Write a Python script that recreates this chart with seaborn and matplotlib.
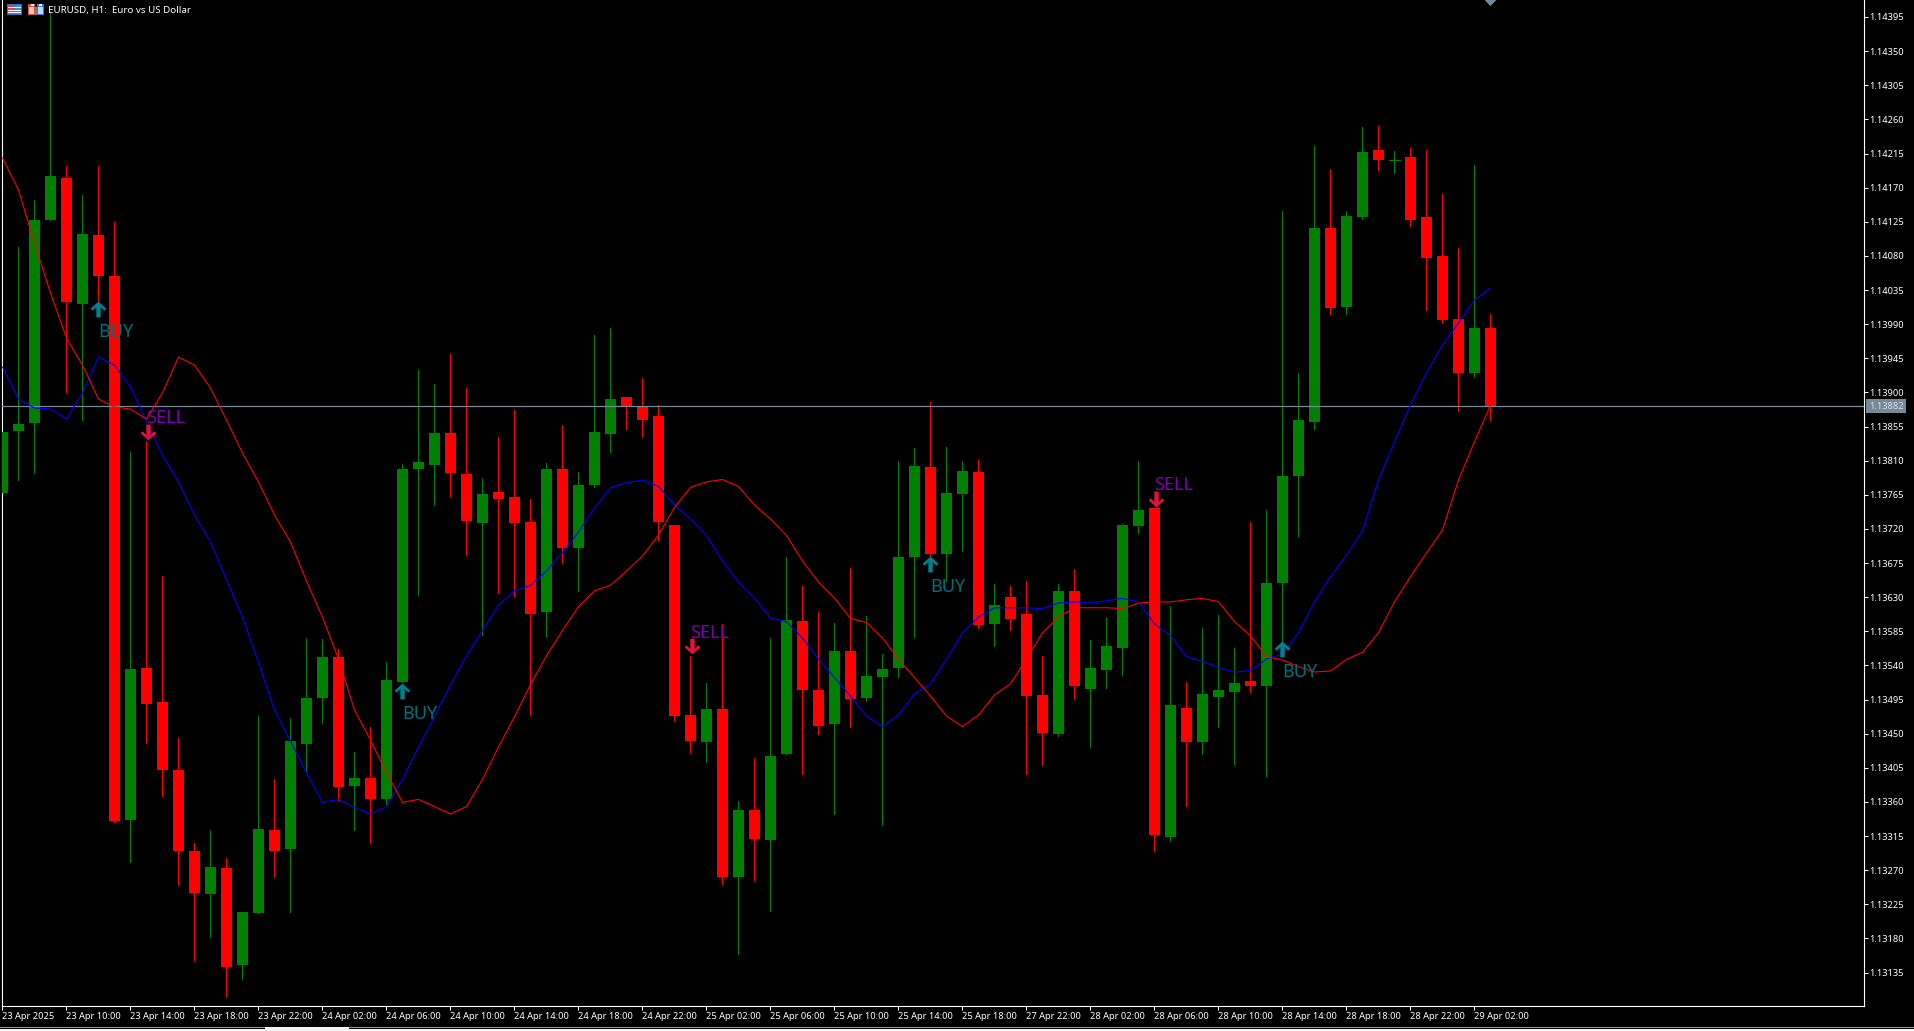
import numpy as np
import pandas as pd
import matplotlib
matplotlib.use("Agg")
import matplotlib.pyplot as plt
from matplotlib.path import Path
from matplotlib.patches import Rectangle
import seaborn as sns

# All price arrays are in points above 1.13000 (1 point = 0.00001)
BASE = 1.13
POINT = 1e-5

open_pts = [768,849,860,1127,1183,1017,1108,1054,336,537,
            492,402,296,239,273,145,214,323,298,436,
            497,551,381,392,364,518,799,804,847,792,
            728,769,762,729,610,799,695,778,845,894,
            882,869,725,475,439,482,261,349,310,423,
            598,507,463,559,497,525,537,683,802,687,
            766,795,595,630,608,501,450,638,509,534,
            563,724,748,314,484,439,498,505,520,513,
            649,790,861,1117,1013,1131,1220,1207,1210,1131,
            1080,997,926,985]
close_pts = [848,858,1127,1185,1019,1109,1054,335,535,489,
             402,296,240,274,142,215,324,296,440,497,
             551,380,392,364,521,799,808,847,794,730,
             766,759,728,608,799,695,778,848,891,882,
             864,729,474,440,482,261,349,311,421,600,
             507,460,559,496,526,535,683,803,687,767,
             797,594,620,601,500,451,638,513,537,565,
             725,745,316,488,439,503,507,517,513,649,
             790,864,1117,1011,1133,1217,1206,1207,1127,1077,
             996,926,985,882]
high_pts = [848,1092,1154,1400,1199,1160,1199,1125,821,836,
            658,444,306,323,286,215,473,390,471,576,
            575,562,426,459,545,806,930,911,951,906,
            787,841,877,759,807,857,795,976,985,894,
            919,884,725,552,517,595,361,418,576,683,
            645,610,596,668,605,555,810,827,887,828,
            809,811,648,645,652,552,648,667,573,604,
            727,810,748,619,518,589,606,563,729,745,
            1139,926,1225,1195,1139,1250,1251,1218,1222,1220,
            1162,1090,1200,1003]
low_pts = [768,785,794,1127,900,863,1021,334,281,438,
           368,250,152,182,103,127,214,261,215,401,
           464,363,323,306,357,518,633,752,764,686,
           580,635,632,475,579,675,638,775,821,852,
           841,705,467,426,413,252,159,257,216,423,
           397,450,344,459,493,330,525,578,684,651,
           691,589,566,587,397,409,447,496,432,510,
           528,715,295,309,355,423,459,410,505,394,
           572,711,852,1003,1003,1129,1193,1189,1119,1009,
           992,876,920,864]
fast_ma_pts = [933.5,891.3,879.4,878.1,864.9,899.2,946.7,936.1,907.1,861,
               817.5,781.9,738.4,702.8,652.7,603.9,543.9,481.3,440.4,398.7,
               359.4,363.4,352.7,344.2,354,389.8,432.5,472.4,514.8,552.7,
               586.2,619.7,638.4,645.7,664.5,688.9,716,747.6,774.4,781,
               784.5,776,751.6,733.1,711.5,677.7,650,628.9,602.5,597.7,
               576.2,548.5,524,499.7,473.4,459.4,474.7,502.4,515.9,548.5,
               582.8,603.9,616.1,616.1,616,615,622.3,623.7,622.3,625.3,
               628.4,624.2,594.7,579.2,551.7,545.5,537.4,531.4,533.2,548.5,
               555.1,583.2,624,657,685.6,717.6,784.5,835,883.4,925.6,
               962.5,991.5,1021.9,1037.7]
slow_ma_pts = [1209.1,1166.9,1097,1031.1,971.7,936.1,891.3,880.8,878.1,864.9,
               899.2,946.7,936.1,905.8,863.6,820.1,781.9,738.4,702.8,651.4,
               603.9,548.5,481.3,441.7,398.7,359.4,363.4,354,344.2,354,
               389.8,432.5,472.4,514.8,552.7,586.2,617.5,638.4,645.7,664.5,
               684.3,712,748.3,774.8,782.1,785.2,776,751.6,733.1,711.5,
               677.7,650,628.9,602,596.5,576.2,548.5,524,499.7,473.4,
               459.4,474.7,501,515.9,548.5,582.8,603.9,616.1,616.1,616.1,
               615,622.3,623.7,623.7,626.6,628.4,624.2,597.7,579.2,551.7,
               547.2,538.4,531.4,532.7,548.1,557.4,583.2,624,657,688.3,
               718.6,784.5,835,883.4]

time_labels = ["23 Apr 2025","23 Apr 10:00","23 Apr 14:00","23 Apr 18:00","23 Apr 22:00",
               "24 Apr 02:00","24 Apr 06:00","24 Apr 10:00","24 Apr 14:00","24 Apr 18:00",
               "24 Apr 22:00","25 Apr 02:00","25 Apr 06:00","25 Apr 10:00","25 Apr 14:00",
               "25 Apr 18:00","27 Apr 22:00","28 Apr 02:00","28 Apr 06:00","28 Apr 10:00",
               "28 Apr 14:00","28 Apr 18:00","28 Apr 22:00","29 Apr 02:00"]
price_ticks = [1.14395,1.14350,1.14305,1.14260,1.14215,1.14170,1.14125,1.14080,1.14035,1.13990,
               1.13945,1.13900,1.13855,1.13810,1.13765,1.13720,1.13675,1.13630,1.13585,1.13540,
               1.13495,1.13450,1.13405,1.13360,1.13315,1.13270,1.13225,1.13180,1.13135]
last_price = 1.13882

buy_bars = [6, 25, 58, 80]
buy_arrow_pts = [1010, 506, 674, 562]
buy_label_pts = [980, 476, 643, 531]
sell_bars = [9, 43, 72]
sell_arrow_pts = [848, 566, 759]
sell_label_pts = [866, 583, 778]

W, H = 1915, 1031
FONT = "Noto Sans"
sns.set_theme(style="dark", rc={"axes.facecolor": "black", "figure.facecolor": "black",
                                "axes.edgecolor": "white", "text.color": "white",
                                "xtick.color": "white", "ytick.color": "white"})
plt.rcParams["font.family"] = [FONT, "DejaVu Sans"]

fig = plt.figure(figsize=(W / 100, H / 100), dpi=100)
ax = fig.add_axes([2.5 / W, (H - 1006) / H, (1864 - 2.5) / W, 1006 / H])
ax.set_facecolor("black")

df = pd.DataFrame({"bar": np.arange(len(open_pts)),
                   "open": BASE + np.array(open_pts) * POINT,
                   "close": BASE + np.array(close_pts) * POINT,
                   "high": BASE + np.array(high_pts) * POINT,
                   "low": BASE + np.array(low_pts) * POINT,
                   "fast": BASE + np.array(fast_ma_pts) * POINT,
                   "slow": BASE + np.array(slow_ma_pts) * POINT})
df["up"] = df["close"] >= df["open"]
df["color"] = np.where(df["up"], "#008000", "#FF0000")

ax.vlines(df["bar"], df["low"], df["high"], colors=df["color"], linewidth=0.72,
          antialiased=False, zorder=2)
heights = (df["close"] - df["open"]).abs()
ax.bar(df["bar"], heights, bottom=df[["open", "close"]].min(axis=1), width=0.69,
       color=df["color"], linewidth=0, antialiased=False, zorder=3)
# doji: open equals close
for _, r in df[heights < 2 * POINT].iterrows():
    ax.hlines(r["close"], r["bar"] - 0.345, r["bar"] + 0.345, colors=r["color"],
              linewidth=0.72, antialiased=False, zorder=3)

sns.lineplot(data=df, x="bar", y="fast", color="#0000FF", linewidth=0.8, ax=ax,
             estimator=None, errorbar=None, zorder=5)
sns.lineplot(data=df, x="bar", y="slow", color="#FF0000", linewidth=0.8, ax=ax,
             estimator=None, errorbar=None, zorder=5)

ax.axhline(last_price, color="#778899", linewidth=0.9, zorder=4)

up_arrow = Path([(0, 1), (1, 0.1), (0.75, -0.15), (0.28, 0.28), (0.28, -1), (-0.28, -1),
                 (-0.28, 0.28), (-0.75, -0.15), (-1, 0.1), (0, 1)], closed=True)
down_arrow = Path([(x, -y) for x, y in up_arrow.vertices], closed=True)
buy_x = np.array(buy_bars)
sell_x = np.array(sell_bars)
sns.scatterplot(x=buy_x, y=BASE + np.array(buy_arrow_pts) * POINT, marker=up_arrow, s=130,
                color="#00808C", linewidth=0, ax=ax, zorder=6, legend=False)
sns.scatterplot(x=sell_x + 0.1, y=BASE + np.array(sell_arrow_pts) * POINT, marker=down_arrow, s=130,
                color="#DC143C", linewidth=0, ax=ax, zorder=6, legend=False)
for b, p in zip(buy_bars, buy_label_pts):
    ax.text(b, BASE + p * POINT, "BUY", color="#006F7C", fontsize=13, va="center", ha="left", zorder=7)
for b, p in zip(sell_bars, sell_label_pts):
    ax.text(b, BASE + p * POINT, "SELL", color="#7D00B0", fontsize=13, va="center", ha="left", zorder=7)

ax.set_xlim(0, (1864 - 2.5) / 16)
ax.set_ylim(1.13091, 1.144174)

# off-chart price marker peeking in at the top edge
sns.scatterplot(x=[93], y=[1.144174], marker="D", s=32, color="#778899", linewidth=0, ax=ax,
                zorder=6, legend=False)

ax.set_xlabel("")
ax.set_ylabel("")
ax.grid(False)
for s, vis in {"top": False, "left": True, "right": True, "bottom": True}.items():
    ax.spines[s].set_visible(vis)
    ax.spines[s].set_color("white")
    ax.spines[s].set_linewidth(0.8)

ax.set_xticks(np.arange(len(time_labels)) * 4)
ax.set_xticklabels(time_labels, ha="left", fontsize=6.7, color="white")
ax.yaxis.tick_right()
ax.set_yticks(price_ticks)
ax.set_yticklabels([f"{t:.5f}" for t in price_ticks], fontsize=6.7, color="white")
ax.tick_params(axis="x", length=2.8, width=0.72, pad=1.5, color="white", bottom=True)
ax.tick_params(axis="y", length=2.8, width=0.72, pad=1, color="white", right=True, left=False)

ax.annotate(f"{last_price:.5f}", xy=(1.0, last_price), xycoords=("axes fraction", "data"),
            xytext=(3.6, 0), textcoords="offset points", va="center", ha="left",
            fontsize=6.7, color="#D8DEE4",
            bbox=dict(boxstyle="square,pad=0.28", fc="#778899", ec="none"), zorder=8)

# window chrome: header caption, icons and bottom tab strip
fig.text(48 / W, 1 - 10 / H, "EURUSD, H1:  Euro vs US Dollar", fontsize=7.0, color="white",
         va="center", ha="left")
def px_rect(x, y, w, h, c):
    fig.add_artist(Rectangle((x / W, 1 - (y + h) / H), w / W, h / H, transform=fig.transFigure,
                             fc=c, ec="none", zorder=10))
# table icon
px_rect(7, 4, 15, 11, "#2C6FC0")
px_rect(8, 5, 6, 9, "#E84040")
px_rect(15, 5, 6, 9, "#3C8CE0")
for yy in (7, 10, 12):
    px_rect(8, yy, 13, 1, "#FFFFFF")
# chart icon
px_rect(28, 4, 7, 11, "#E05040")
px_rect(29, 7, 5, 7, "#FFC8C0")
px_rect(35, 7, 2, 8, "#808080")
px_rect(37, 4, 7, 11, "#2C7CD0")
px_rect(38, 7, 5, 7, "#B8DCFF")
px_rect(31, 4, 3, 2, "#FFFFFF")
px_rect(39, 4, 3, 2, "#FFFFFF")
# bottom tabs
px_rect(0, 1027, W, 1, "#9A9A9A")
px_rect(0, 1029, 265, 2, "#F4F4F4")
px_rect(265, 1027, 84, 4, "#F4F4F4")
px_rect(349, 1029, W - 349, 2, "#F4F4F4")

fig.savefig("out.png", dpi=100, facecolor="black")
